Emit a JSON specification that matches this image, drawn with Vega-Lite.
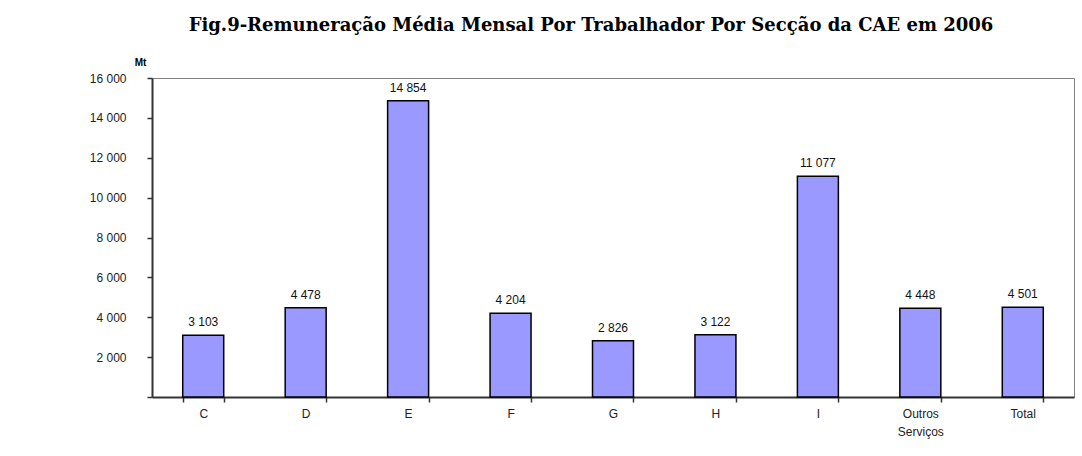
{
  "$schema": "https://vega.github.io/schema/vega-lite/v6.json",
  "width": 922,
  "height": 319,
  "autosize": "none",
  "padding": {"left": 152, "top": 78, "right": 8, "bottom": 59},
  "background": "white",
  "config": {
    "locale": {"number": {"decimal": ",", "thousands": " ", "grouping": [3], "currency": ["", ""]}},
    "view": {"stroke": "#808080", "strokeWidth": 1},
    "font": "Liberation Sans"
  },
  "title": {
    "text": "Fig.9-Remuneração Média Mensal Por  Trabalhador Por Secção da CAE em 2006",
    "font": "DejaVu Serif",
    "fontSize": 18,
    "fontWeight": "bold",
    "color": "#000000",
    "anchor": "middle",
    "dx": -22,
    "offset": 22
  },
  "data": {
    "values": [
      {"categoria": "C", "valor": 3103},
      {"categoria": "D", "valor": 4478},
      {"categoria": "E", "valor": 14854},
      {"categoria": "F", "valor": 4204},
      {"categoria": "G", "valor": 2826},
      {"categoria": "H", "valor": 3122},
      {"categoria": "I", "valor": 11077},
      {"categoria": "Outros Serviços", "valor": 4448},
      {"categoria": "Total", "valor": 4501}
    ]
  },
  "encoding": {
    "x": {
      "field": "categoria",
      "type": "nominal",
      "sort": null,
      "scale": {"paddingInner": 0.6, "paddingOuter": 0.3},
      "axis": {
        "title": null,
        "labelAngle": 0,
        "labelFontSize": 12,
        "labelColor": "#222222",
        "labelPadding": 6,
        "labelLineHeight": 18,
        "labelExpr": "split(datum.label, ' ')",
        "tickBand": "extent",
        "tickSize": 5,
        "tickColor": "#333333",
        "tickWidth": 1.5,
        "domainColor": "#333333",
        "domainWidth": 2,
        "grid": false
      }
    },
    "y": {
      "field": "valor",
      "type": "quantitative",
      "scale": {"domain": [0, 16000], "nice": false},
      "axis": {
        "title": "Mt",
        "titleAngle": 0,
        "titleFontSize": 10,
        "titleFontWeight": "bold",
        "titleColor": "#000000",
        "titleX": -12,
        "titleY": -16,
        "titleAlign": "center",
        "titleBaseline": "middle",
        "values": [0, 2000, 4000, 6000, 8000, 10000, 12000, 14000, 16000],
        "format": ",.0f",
        "labelExpr": "datum.value == 0 ? '' : datum.label",
        "labelFontSize": 12,
        "labelColor": "#222222",
        "labelPadding": 21,
        "tickSize": 5,
        "tickColor": "#333333",
        "tickWidth": 1.5,
        "domainColor": "#333333",
        "domainWidth": 2,
        "grid": false
      }
    }
  },
  "layer": [
    {
      "mark": {"type": "bar", "color": "#9999FF", "stroke": "#000000", "strokeWidth": 1.5}
    },
    {
      "mark": {"type": "text", "baseline": "middle", "dy": -13, "fontSize": 12, "color": "#111111"},
      "encoding": {
        "text": {"field": "valor", "type": "quantitative", "format": ",.0f"}
      }
    }
  ]
}
